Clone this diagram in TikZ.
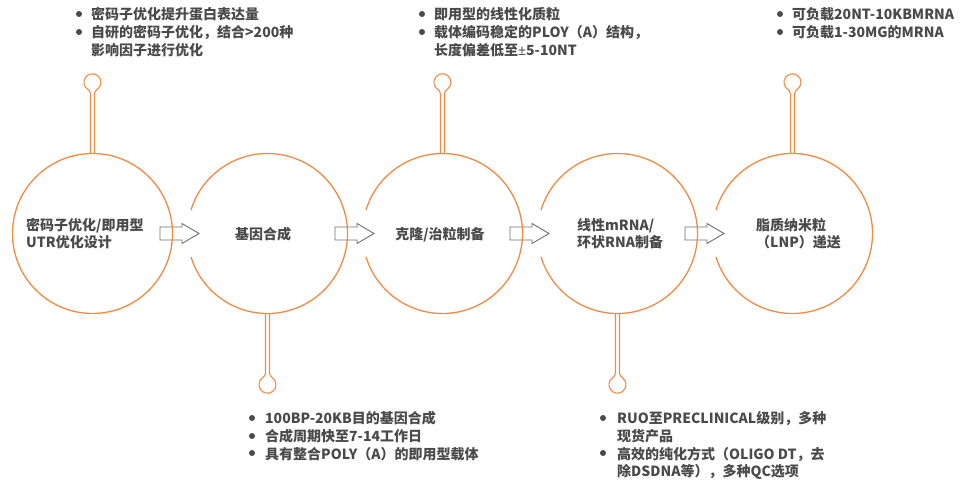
\documentclass[tikz,border=0pt]{standalone}
\usepackage{fontspec}
\setmainfont{Noto Sans CJK SC}
\newfontfamily\latfont{Noto Sans}
\usetikzlibrary{calc}
\definecolor{org}{HTML}{F08B46}
\definecolor{txt}{HTML}{4A4A4A}
\definecolor{arw}{HTML}{707070}
\tikzset{
  ring/.style={draw=org, line width=1.3pt},
  pinline/.style={draw=org, line width=1.1pt},
  lbl/.style={text=txt, font=\fontsize{14}{17}\selectfont\bfseries, inner sep=0pt, align=left},
  blk/.style={text=txt, font=\fontsize{14}{17.7}\selectfont\bfseries, inner sep=0pt, align=left, anchor=north west},
  blockarrow/.style={draw=arw, fill=white, line width=0.9pt},
  hole/.style={circle, minimum size=160pt, inner sep=0pt},
  bulletdot/.style={fill=txt},
  pin/.pic={
    \draw[pinline] (-2,0) -- (-2,59) .. controls (-2,61.5) and (-3.24,62.9) .. (-4.88,64.04)
      arc[start angle=235,end angle=-55,radius=8.5]
      .. controls (3.24,62.9) and (2,61.5) .. (2,59) -- (2,0);
  }
}
\begin{document}
\begin{tikzpicture}[x=1pt,y=-1pt]
\useasboundingbox[fill=white] (0,0) rectangle (968,486);
\foreach \i/\x in {1/92.5,2/267.5,3/442.5,4/617.5,5/792.5}
  \node[hole] (c\i) at (\x,233.5) {};
% block arrows
\foreach \a/\b in {c1/c2,c2/c3,c3/c4,c4/c5}
  \draw[blockarrow] ($(\a.center)+(67.5,-6.5)$) -- ++(22,0) -- ++(0,-3.5) -- ++(17,10) -- ++(-17,10) -- ++(0,-3.5) -- ++(-22,0) -- cycle;
% circles
\draw[ring] (c1.center) circle[radius=80];
\foreach \i in {2,3,4,5}
  \draw[ring] ($(c\i.center)+(-163:80)$) arc[start angle=-163,end angle=163,radius=80];
% pins
\pic[yscale=-1] at (c1.north) {pin};
\pic[yscale=-1] at (c3.north) {pin};
\pic[yscale=-1] at (c5.north) {pin};
\pic at (c2.south) {pin};
\pic at (c4.south) {pin};
% circle labels
\node[lbl, anchor=west] (t1) at (26,233.5) {密码子优化/即用型\\UTR优化设计};
\node[lbl] (t2) at (263,234) {基因合成};
\node[lbl] (t3) at (440,234.5) {克隆/治粒制备};
\node[lbl, anchor=west] (t4) at (577,233.5) {线性mRNA/\\环状RNA制备};
\node[lbl, anchor=west] (t5) at (756,233.5) {脂质纳米粒\\（LNP）递送};
% bullet blocks
\node[blk] (b1) at (91,7.5) {密码子优化提升蛋白表达量\\自研的密码子优化，结合>200种\\影响因子进行优化};
\node[blk] (b2) at (434,7.5) {即用型的线性化质粒\\载体编码稳定的PLOY（A）结构，\\长度偏差低至{\latfont ±}5-10NT};
\node[blk] (b3) at (792,7.5) {可负载20NT-10KBMRNA\\可负载1-30MG的MRNA};
\node[blk] (b4) at (265,411.5) {100BP-20KB目的基因合成\\合成周期快至7-14工作日\\具有整合POLY（A）的即用型载体};
\node[blk] (b5) at (617,411.5) {RUO至PRECLINICAL级别，多种\\现货产品\\高效的纯化方式（OLIGO DT，去\\除DSDNA等），多种QC选项};
% bullets
\foreach \p in {(79,14),(79,32),(422,14),(422,32),(780,14),(780,32),(252,418),(252,436),(252,453),(603,418),(603,453)}
  \fill[bulletdot] \p circle[radius=3];
\end{tikzpicture}
\end{document}
